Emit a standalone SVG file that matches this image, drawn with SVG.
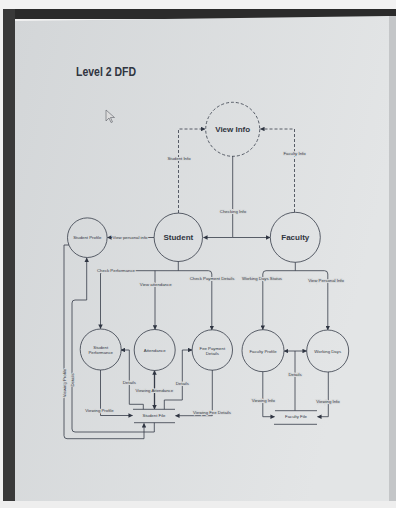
<svg xmlns="http://www.w3.org/2000/svg" width="396" height="508" viewBox="0 0 396 508">
<defs>
<linearGradient id="pg" x1="0" y1="0" x2="1" y2="0.3">
<stop offset="0" stop-color="#d3d6d8"/>
<stop offset="1" stop-color="#e3e5e6"/>
</linearGradient>
<marker id="ah" viewBox="0 0 10 10" refX="9" refY="5" markerWidth="4.5" markerHeight="4.5" markerUnits="userSpaceOnUse" orient="auto-start-reverse">
<path d="M0,0 L10,5 L0,10 z" fill="#2f3542"/>
</marker>
</defs>
<style>
.ln{fill:none;stroke:#353b48;stroke-width:0.8}
.ds{stroke-dasharray:3 2}
.nd{fill:none;stroke:#353b48;stroke-width:0.8}
.t{font-family:"Liberation Sans",Arial,sans-serif;fill:#303540;text-anchor:middle}
.big{font-size:8px;font-weight:bold}
.sm{font-size:4.3px}
.lb{font-family:"Liberation Sans",Arial,sans-serif;fill:#303540;text-anchor:middle;font-size:4.3px;paint-order:stroke;stroke:#d9dbdc;stroke-width:1.8px}
</style>
<!-- photo frame -->
<rect x="0" y="0" width="396" height="508" fill="#f2f2f2"/>
<rect x="3" y="9" width="393" height="10" fill="#2b2b2b"/>
<rect x="3" y="9" width="12" height="492" fill="#3a3a3a"/>
<polygon points="15,21 389,16 390,501 15,501" fill="url(#pg)"/>
<rect x="389" y="16" width="7" height="485" fill="#c4c6c8"/>
<rect x="0" y="501" width="396" height="7" fill="#eeeeee"/>
<text class="t" x="106" y="76" style="font-size:12.5px;font-weight:bold" textLength="60" lengthAdjust="spacingAndGlyphs">Level 2 DFD</text>
<polygon points="106,110 106,121 109,118 111,122.5 112.5,122 110.5,117.5 114.5,117.5" fill="#dcdcdc" stroke="#5a5e66" stroke-width="0.6"/>
<g id="connectors">
<path class="ln ds" d="M178.5,213 V129 H205" marker-end="url(#ah)"/>
<path class="ln ds" d="M294.5,212 V129 H260.5" marker-end="url(#ah)"/>
<path class="ln" d="M232.7,156 V237.5 H203.5" marker-end="url(#ah)"/>
<path class="ln" d="M232.7,237.5 H270" marker-end="url(#ah)"/>
<path class="ln" d="M154,237.5 H107.5" marker-end="url(#ah)"/>
<path class="ln" d="M178.3,261.3 V270.7"/>
<path class="ln" d="M100.5,328.5 V274 Q100.5,270.7 104,270.7 H208.5 Q211.8,270.7 211.8,274 V329.8" marker-start="url(#ah)" marker-end="url(#ah)"/>
<path class="ln" d="M155,270.7 V329.3" marker-end="url(#ah)"/>
<path class="ln" d="M295.3,262.3 V270.7"/>
<path class="ln" d="M262.8,329.5 V274 Q262.8,270.7 266,270.7 H324.5 Q327.8,270.7 327.8,274 V329.8" marker-start="url(#ah)" marker-end="url(#ah)"/>
<path class="ln" d="M284.2,351 H306.5" marker-start="url(#ah)" marker-end="url(#ah)"/>
<path class="ln" d="M295,351 V410.7"/>
<path class="ln" d="M262.8,371.7 V416.7 H274.5" marker-end="url(#ah)"/>
<path class="ln" d="M328.3,372 V416.7 H317.5" marker-end="url(#ah)"/>
<path class="ln" d="M100.5,370 V415.5 H132.5" marker-end="url(#ah)"/>
<path class="ln" d="M143.3,409.3 V404.3 H129.3 V350 H121" marker-end="url(#ah)"/>
<path class="ln" style="stroke-width:1.3" d="M154.5,370.8 V409" marker-start="url(#ah)" marker-end="url(#ah)"/>
<path class="ln" d="M164.3,409.3 V400 H182.3 V350 H192" marker-end="url(#ah)"/>
<path class="ln" d="M212.3,370 V415.7 H175.5" marker-end="url(#ah)"/>
<path class="ln" d="M154.3,422.7 V432 H75 Q72,432 72,429 V303 Q72,300 75,300 H86.7 V258" marker-end="url(#ah)"/>
<path class="ln" d="M69,245 H64 V435.7 Q64,438.7 67,438.7 H144 V423.5" marker-end="url(#ah)"/>
<text class="lb" x="179" y="159.5">Student Info</text>
<text class="lb" x="294.5" y="155">Faculty Info</text>
<text class="lb" x="233" y="212.8">Checking Info</text>
<text class="lb" x="130" y="239">View personal info</text>
<text class="lb" x="116" y="272.2">Check Performance</text>
<text class="lb" x="155.7" y="285.5">View attendance</text>
<text class="lb" x="212" y="279.5">Check Payment Details</text>
<text class="lb" x="262" y="279.5">Working Days Status</text>
<text class="lb" x="326" y="282">View Personal Info</text>
<text class="lb" x="295" y="375.8">Details</text>
<text class="lb" x="263.3" y="402">Viewing Info</text>
<text class="lb" x="328" y="402.5">Viewing Info</text>
<text class="lb" x="99.5" y="412.2">Viewing Profile</text>
<text class="lb" x="129.3" y="383.5">Details</text>
<text class="lb" x="154.3" y="391.5">Viewing Attendance</text>
<text class="lb" x="182.3" y="384.8">Details</text>
<text class="lb" x="212" y="414.2">Viewing Fee Details</text>
<text class="lb" x="0" y="0" transform="translate(65.5,383) rotate(-90)">Viewing Profile</text>
<text class="lb" x="0" y="0" transform="translate(73.5,380) rotate(-90)">Details</text>
</g>
<g id="view-info">
<circle class="nd ds" cx="232.7" cy="129.3" r="27"/>
<text class="t big" x="232.7" y="132">View Info</text>
</g>
<g id="student">
<circle class="nd" cx="178.3" cy="237.3" r="24.2"/>
<text class="t big" x="178.3" y="240.3">Student</text>
</g>
<g id="faculty">
<circle class="nd" cx="295.3" cy="237.3" r="25"/>
<text class="t big" x="295.3" y="240.3">Faculty</text>
</g>
<g id="student-profile">
<circle class="nd" cx="87.3" cy="237.7" r="19.8"/>
<text class="t sm" x="87.3" y="239.2">Student Profile</text>
</g>
<g id="student-performance">
<circle class="nd" cx="100.7" cy="349.5" r="20.5"/>
<text class="t sm" x="100.7" y="348.8">Student</text>
<text class="t sm" x="100.7" y="353.8">Performance</text>
</g>
<g id="attendance">
<circle class="nd" cx="154.7" cy="350" r="20.5"/>
<text class="t sm" x="154.7" y="351.5">Attendance</text>
</g>
<g id="fee-payment-details">
<circle class="nd" cx="212.3" cy="350" r="20.2"/>
<text class="t sm" x="212.3" y="349.8">Fee Payment</text>
<text class="t sm" x="212.3" y="354.8">Details</text>
</g>
<g id="faculty-profile">
<circle class="nd" cx="263" cy="350.7" r="21"/>
<text class="t sm" x="263" y="352.5">Faculty Profile</text>
</g>
<g id="working-days">
<circle class="nd" cx="327.7" cy="351" r="21"/>
<text class="t sm" x="327.7" y="352.7">Working Days</text>
</g>
<g id="student-file">
<path class="ln" d="M133,409.3 H175 M134,422.7 H175"/>
<text class="t sm" x="154" y="417.2">Student File</text>
</g>
<g id="faculty-file">
<path class="ln" d="M275,410.7 H317 M274,424.3 H317"/>
<text class="t sm" x="296" y="418.2">Faculty File</text>
</g>
</svg>
